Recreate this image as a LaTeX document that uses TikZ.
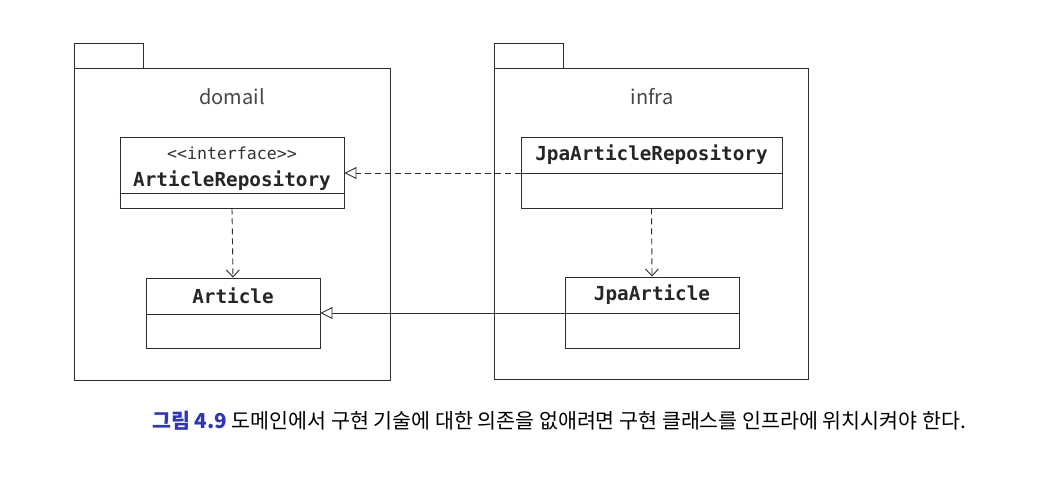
\documentclass[tikz,border=0pt]{standalone}
\usepackage{fontspec}
\setmainfont{Noto Sans CJK KR}
\setmonofont{DejaVu Sans Mono}
\usetikzlibrary{arrows.meta}
\definecolor{lin}{RGB}{45,45,45}
\definecolor{capblue}{RGB}{45,55,190}
\begin{document}
\begin{tikzpicture}[x=1pt,y=-1pt,
  box/.style={draw=lin,line width=0.9pt,rectangle,inner sep=0pt},
  pkgname/.style={font=\fontsize{20}{23}\selectfont,text=black!72},
  clsname/.style={font=\ttfamily\bfseries\fontsize{19.3}{22}\selectfont,text=black!85},
  stereo/.style={font=\ttfamily\fontsize{16.6}{19}\selectfont,text=black!80},
  dep/.style={draw=lin,line width=0.9pt,dash pattern=on 6pt off 4pt,-{Straight Barb[length=7pt,width=13pt]}},
  real/.style={draw=lin,line width=0.9pt,dash pattern=on 6pt off 4pt,-{Triangle[open,length=12pt,width=12pt,fill=white]}},
  gen/.style={draw=lin,line width=0.9pt,-{Triangle[open,length=12pt,width=12pt,fill=white]}},
  divider/.style={draw=lin,line width=0.9pt}]
\useasboundingbox (0,0) rectangle (1042,494);
\fill[white] (0,0) rectangle (1042,494);
% packages
\node[box,minimum width=69pt,minimum height=25pt] (domtab) at (108.5,55.5) {};
\node[box,minimum width=316pt,minimum height=312pt] (dom) at (232,224) {};
\node[pkgname] (domlbl) at (232,97) {domail};
\node[box,minimum width=69pt,minimum height=25pt] (inftab) at (528.5,55.5) {};
\node[box,minimum width=314pt,minimum height=311pt] (inf) at (651,223.5) {};
\node[pkgname] (inflbl) at (652,97) {infra};
% classes
\node[box,minimum width=224pt,minimum height=71pt] (ar) at (232,172.5) {};
\draw[divider] (ar.west |- 0,193) -- (ar.east |- 0,193);
\node[stereo] (arst) at (232,153) {<<interface>>};
\node[clsname] (arnm) at (232,181) {ArticleRepository};
\node[box,minimum width=174pt,minimum height=70pt] (art) at (233,313) {};
\draw[divider] (art.west |- 0,314) -- (art.east |- 0,314);
\node[clsname] (artnm) at (233,296) {Article};
\node[box,minimum width=261pt,minimum height=71pt] (jar) at (651.5,172.5) {};
\draw[divider] (jar.west |- 0,173) -- (jar.east |- 0,173);
\node[clsname] (jarnm) at (651.5,155) {JpaArticleRepository};
\node[box,minimum width=174pt,minimum height=71pt] (ja) at (652,312.5) {};
\draw[divider] (ja.west |- 0,313) -- (ja.east |- 0,313);
\node[clsname] (janm) at (652,295) {JpaArticle};
% connectors
\draw[dep] (ar.south) -- (art.north);
\draw[dep] (jar.south) -- (ja.north);
\draw[real] (jar.west |- 0,173) -- (ar.east |- 0,173);
\draw[gen] (ja.west |- 0,313) -- (art.east |- 0,313);
% caption
\node[anchor=west,inner sep=0pt,font=\fontsize{20.6}{24}\selectfont] (cap) at (152,421)
  {\textcolor{capblue}{\bfseries 그림 4.9} 도메인에서 구현 기술에 대한 의존을 없애려면 구현 클래스를 인프라에 위치시켜야 한다.};
\end{tikzpicture}
\end{document}
